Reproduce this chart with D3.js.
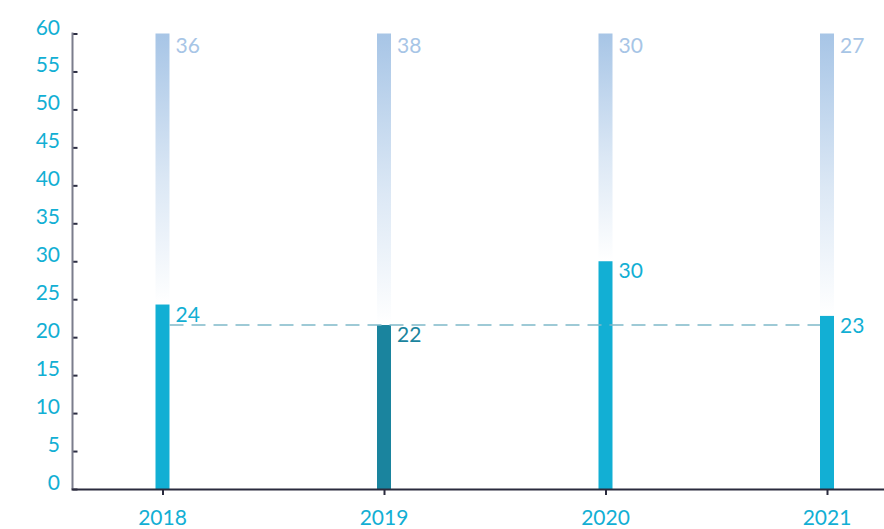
<!DOCTYPE html>
<html><head><meta charset="utf-8">
<script src="https://cdn.jsdelivr.net/npm/d3@7"></script>
<style>body{margin:0;background:#fff}svg{display:block;font-family:Lato,"Open Sans",sans-serif}</style>
</head><body>
<svg id="c" width="884" height="529"></svg>
<script>
const years = ["2018","2019","2020","2021"];
const values = [24.3, 21.6, 30, 22.8];
const valueLabels = ["24","22","30","23"];
const topLabels = ["36","38","30","27"];
const highlight = ["2019"];
const refValue = 21.6;
const yTicks = [0,5,10,15,20,25,30,35,40,45,50,55,60];

const svg = d3.select("#c");
const x = d3.scalePoint().domain(years).range([162.5, 827]);
const y = d3.scaleLinear().domain([0, 60]).range([489, 33.5]);
const bw = 14;
const cMain = "#12afd4", cDark = "#1a849e", cLight = "#a7c5e6";

const defs = svg.append("defs");
const g = defs.append("linearGradient").attr("id","fade").attr("x1",0).attr("y1",0).attr("x2",0).attr("y2",1);
g.append("stop").attr("offset","0").attr("stop-color",cLight);
g.append("stop").attr("offset","0.55").attr("stop-color","#dce8f5");
g.append("stop").attr("offset","1").attr("stop-color","#ffffff");

const data = years.map((yr,i)=>({yr, v:values[i], lab:valueLabels[i], top:topLabels[i]}));

// background gradient bars
svg.selectAll("rect.bg").data(data).enter().append("rect").attr("class","bg")
  .attr("x", d=>x(d.yr)-bw/2).attr("width", bw)
  .attr("y", y(60)).attr("height", d=>y(d.v)-y(60))
  .attr("fill","url(#fade)");

// value bars
svg.selectAll("rect.val").data(data).enter().append("rect").attr("class","val")
  .attr("x", d=>x(d.yr)-bw/2).attr("width", bw)
  .attr("y", d=>y(d.v)).attr("height", d=>y(0)-y(d.v))
  .attr("fill", d=>highlight.includes(d.yr)?cDark:cMain);

// dashed reference line
svg.append("line")
  .attr("x1", x(years[0])+bw/2).attr("x2", x(years[years.length-1])-bw/2)
  .attr("y1", y(refValue)).attr("y2", y(refValue))
  .attr("stroke","#7fb9c9").attr("stroke-width",1.5).attr("stroke-dasharray","14,8");

// top labels
svg.selectAll("text.top").data(data).enter().append("text").attr("class","top")
  .attr("x", d=>x(d.yr)+bw/2+6).attr("y", y(60)+19)
  .attr("fill", cLight).attr("font-size",21).text(d=>d.top);

// value labels
svg.selectAll("text.val").data(data).enter().append("text").attr("class","val")
  .attr("x", d=>x(d.yr)+bw/2+6).attr("y", d=>y(d.v)+17)
  .attr("fill", d=>highlight.includes(d.yr)?cDark:cMain).attr("font-size",21).text(d=>d.lab);

// y axis
const ya = svg.append("g").attr("transform","translate(72.5,0)")
  .call(d3.axisRight(y).tickValues(yTicks).tickSize(5).tickFormat(""));
ya.select(".domain").remove();
ya.selectAll(".tick line").attr("stroke","#2c2e43").attr("stroke-width",2);
svg.append("line").attr("x1",72.5).attr("x2",72.5).attr("y1",y(60)-1).attr("y2",y(0))
  .attr("stroke","#7b7d8c").attr("stroke-width",2);
svg.selectAll("text.yl").data(yTicks).enter().append("text").attr("class","yl")
  .attr("x",60).attr("y",d=>y(d)+1).attr("text-anchor","end")
  .attr("fill",cMain).attr("font-size",21).text(d=>d);

// x axis
const xa = svg.append("g").attr("transform","translate(0,489)")
  .call(d3.axisBottom(x).tickSize(6).tickFormat(""));
xa.select(".domain").remove();
xa.selectAll(".tick line").attr("stroke","#2a2b3d").attr("stroke-width",2);
svg.append("line").attr("x1",71.5).attr("x2",884).attr("y1",489.5).attr("y2",489.5)
  .attr("stroke","#2a2b3d").attr("stroke-width",2);
svg.selectAll("text.xl").data(years).enter().append("text").attr("class","xl")
  .attr("x",d=>x(d)).attr("y",525).attr("text-anchor","middle")
  .attr("fill",cMain).attr("font-size",21).text(d=>d);
</script>
</body></html>
